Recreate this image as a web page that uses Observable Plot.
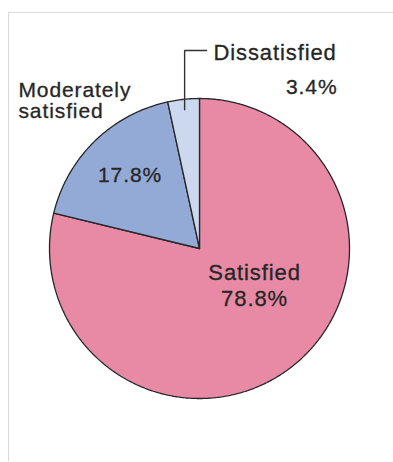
<!DOCTYPE html>
<html>
<head>
<meta charset="utf-8">
<script src="https://cdn.jsdelivr.net/npm/d3@7"></script>
<script src="https://cdn.jsdelivr.net/npm/@observablehq/plot@0.6"></script>
<style>
  html, body { margin: 0; padding: 0; background: #fff; }
  #wrap { position: relative; width: 393px; height: 462px; overflow: hidden; }
  #frame { position: absolute; left: 8px; top: 12px; width: 400px; height: 448px;
           border-left: 1.5px solid #d9d9d9; border-top: 1.5px solid #d9d9d9; }
  #chart { position: absolute; left: 0; top: 0; }
  #chart g[aria-label="shadow"] { filter: blur(3px); }
  #chart text { letter-spacing: 0.9px; }
  #chart g[aria-label="wide label"] text { letter-spacing: 1.5px; }
</style>
</head>
<body>
<div id="wrap"><div id="frame"></div><div id="chart"></div></div>
<script>
// Survey shares, in percent
const categories = ["Satisfied", "Moderately satisfied", "Dissatisfied"];
const shares = [78.8, 17.8, 3.4];
const colors = ["#e889a5", "#93a9d6", "#ccd8ee"];

// Wedge angles, clockwise from 12 o'clock
const total = d3.sum(shares);
let acc = 0;
const slices = categories.map((name, i) => {
  const a0 = acc / total * 2 * Math.PI;
  acc += shares[i];
  const a1 = acc / total * 2 * Math.PI;
  return {name, value: shares[i], color: colors[i], a0, a1, mid: (a0 + a1) / 2};
});
const polar = (a, r) => ({x: r * Math.sin(a), y: r * Math.cos(a)});
function arcPoints(a0, a1, withCenter) {
  const n = Math.max(2, Math.ceil((a1 - a0) / 0.01));
  const pts = withCenter ? [{x: 0, y: 0}] : [];
  for (let k = 0; k <= n; ++k) pts.push(polar(a0 + (a1 - a0) * k / n, 1));
  if (withCenter) pts.push({x: 0, y: 0});
  return pts;
}
const disc = arcPoints(0, 2 * Math.PI, false);

const [sat, mod, dis] = slices;
const pct = (s) => `${s.value}%`;

// Leader from inside the small wedge up to its label
const lead0 = polar(dis.mid, 0.93);
const leader = [lead0, {x: lead0.x, y: 1.32}, {x: 0.047, y: 1.32}];

const ink = "#262626";
const label = {lineAnchor: "bottom", fill: ink, stroke: ink, strokeWidth: 0.3};
const marks = [
  Plot.line(disc, {x: "x", y: "y", fill: "#000", fillOpacity: 0.4, stroke: "none", dx: 3, dy: 4, ariaLabel: "shadow"}),
  ...slices.map((s) => Plot.line(arcPoints(s.a0, s.a1, true), {
    x: "x", y: "y", fill: s.color, stroke: ink, strokeWidth: 1.3, strokeLinejoin: "miter"
  })),
  Plot.line(leader, {x: "x", y: "y", stroke: "#333", strokeWidth: 1.4, strokeLinejoin: "miter"}),
  Plot.text([dis], {...label, x: 0.093, y: 1.26, text: (d) => d.name, textAnchor: "start", fontSize: 22}),
  Plot.text([dis], {...label, x: 0.92, y: 1.033, text: pct, textAnchor: "end", fontSize: 21}),
  Plot.text([mod], {...label, x: -1.207, y: 0.873, text: () => "Moderately\nsatisfied", textAnchor: "start", lineHeight: 1.0, fontSize: 21, ariaLabel: "wide label"}),
  Plot.text([mod], {...label, x: -0.463, y: 0.443, text: pct, textAnchor: "middle", fontSize: 21}),
  Plot.text([sat], {...label, x: 0.367, y: -0.38, text: (d) => `${d.name}\n${pct(d)}`, textAnchor: "middle", lineHeight: 1.17, fontSize: 22})
];

const chart = Plot.plot({
  width: 393,
  height: 462,
  marginLeft: 49,
  marginRight: 44,
  marginTop: 98,
  marginBottom: 64,
  x: {domain: [-1, 1], axis: null},
  y: {domain: [-1, 1], axis: null},
  style: {background: "transparent", overflow: "visible", fontFamily: "'Liberation Sans', Arial, sans-serif"},
  marks
});
document.getElementById("chart").append(chart);
</script>
</body>
</html>
